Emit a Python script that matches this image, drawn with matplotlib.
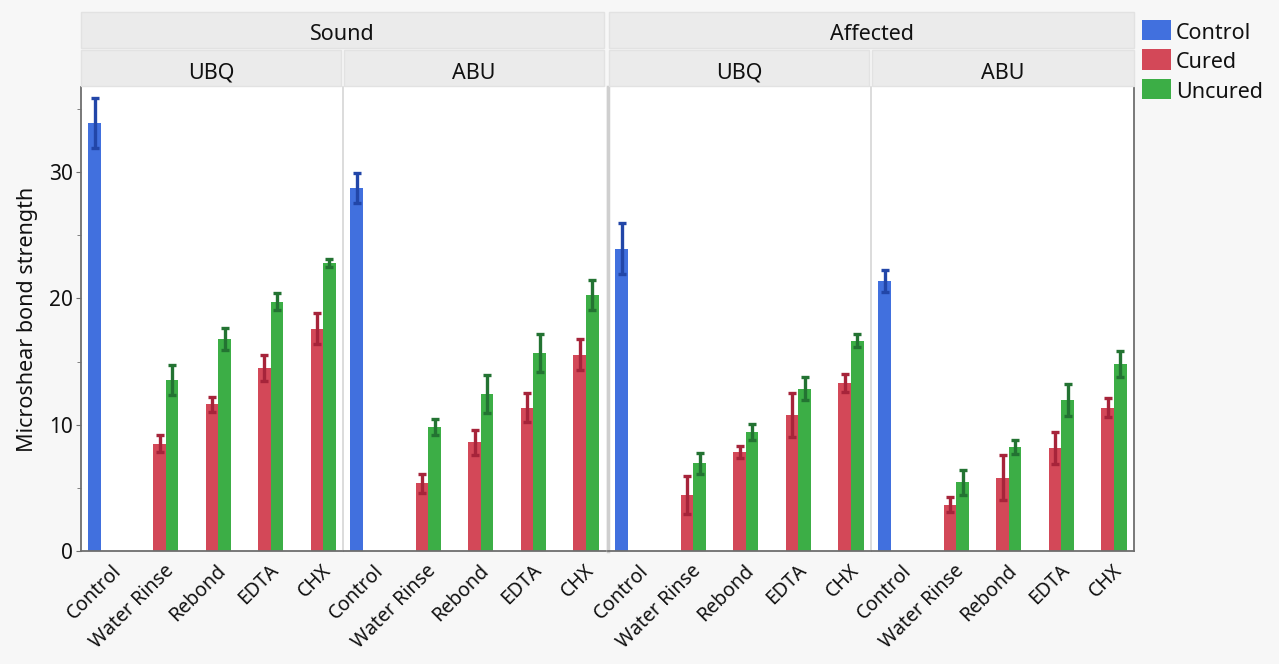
import matplotlib
matplotlib.use("Agg")
import matplotlib.pyplot as plt
import matplotlib.transforms as mtransforms
from matplotlib.patches import Rectangle
import numpy as np

plt.rcParams['font.family'] = ['Noto Sans', 'DejaVu Sans']

# data
categories = ["Control", "Water Rinse", "Rebond", "EDTA", "CHX"]
series = ["Control", "Cured", "Uncured"]
groups = ["Sound", "Affected"]
adhesives = ["UBQ", "ABU"]

# order of panels: Sound-UBQ, Sound-ABU, Affected-UBQ, Affected-ABU
control_mean = [33.9, 28.75, 23.95, 21.4]
control_err = [2.0, 1.2, 2.05, 0.87]

cured_mean = [
    [8.5, 11.6, 14.5, 17.6],
    [5.35, 8.6, 11.35, 15.55],
    [4.45, 7.85, 10.75, 13.3],
    [3.65, 5.8, 8.15, 11.35],
]
cured_err = [
    [0.65, 0.6, 1.05, 1.25],
    [0.75, 1.0, 1.15, 1.2],
    [1.5, 0.45, 1.75, 0.7],
    [0.6, 1.8, 1.3, 0.77],
]
uncured_mean = [
    [13.55, 16.8, 19.75, 22.8],
    [9.85, 12.45, 15.7, 20.3],
    [6.95, 9.4, 12.85, 16.65],
    [5.45, 8.2, 11.95, 14.8],
]
uncured_err = [
    [1.2, 0.85, 0.65, 0.35],
    [0.63, 1.5, 1.5, 1.18],
    [0.83, 0.65, 0.93, 0.5],
    [1.0, 0.55, 1.25, 1.03],
]

colors = {"Control": "#4170de", "Cured": "#d34858", "Uncured": "#3cae46"}
err_colors = {"Control": "#2246a8", "Cured": "#a6243a", "Uncured": "#237332"}

W, H = 1279, 664
fig = plt.figure(figsize=(W / 100, H / 100), dpi=100)
fig.patch.set_facecolor("#f7f7f7")


def fx(px):
    return px / W


def fy(py):
    return 1 - py / H


axis_dark = "#6e6e6e"
sep_light = "#d6d6d6"
header_fill = "#ebebeb"
header_edge = "#e2e2e2"
txt = "#111111"

panel_x = [(81, 343), (343, 606), (608, 871), (871, 1134)]
top_px, bot_px = 87, 551
ymax = (bot_px - top_px) / 12.63

bw = 0.24
x = np.arange(len(categories))
ekw = dict(capsize=2.6, capthick=2.4, elinewidth=2.4)

for i, (x0, x1) in enumerate(panel_x):
    ax = fig.add_axes([fx(x0), fy(bot_px), fx(x1 - x0), (bot_px - top_px) / H])
    ax.set_facecolor("white")
    ax.bar(x[0] - bw, control_mean[i], bw, color=colors["Control"], zorder=2)
    ax.errorbar(x[0] - bw, control_mean[i], yerr=control_err[i], fmt="none",
                ecolor=err_colors["Control"], zorder=3, **ekw)
    ax.bar(x[1:], cured_mean[i], bw, color=colors["Cured"], zorder=2)
    ax.errorbar(x[1:], cured_mean[i], yerr=cured_err[i], fmt="none",
                ecolor=err_colors["Cured"], zorder=3, **ekw)
    ax.bar(x[1:] + bw, uncured_mean[i], bw, color=colors["Uncured"], zorder=2)
    ax.errorbar(x[1:] + bw, uncured_mean[i], yerr=uncured_err[i], fmt="none",
                ecolor=err_colors["Uncured"], zorder=3, **ekw)

    ax.set_xlim(-0.5, len(categories) - 0.5)
    ax.set_ylim(0, ymax)
    ax.set_xticks(x)
    ax.set_xticklabels(categories, rotation=45, ha="right", va="top",
                       rotation_mode="anchor", fontsize=14, color=txt)
    ax.tick_params(axis="x", length=0, pad=7)
    ax.spines["top"].set_visible(False)
    ax.spines["bottom"].set_color(axis_dark)
    ax.spines["bottom"].set_linewidth(1.3)
    if i == 0:
        ax.spines["left"].set_color(axis_dark)
        ax.spines["left"].set_linewidth(1.3)
        ax.set_yticks([0, 10, 20, 30])
        ax.set_yticks([5, 15, 25, 35], minor=True)
        ax.tick_params(axis="y", which="major", length=3.5, color=axis_dark,
                       labelsize=15, pad=2, labelcolor=txt)
        ax.tick_params(axis="y", which="minor", length=3, color=axis_dark)
        ax.set_ylabel("Microshear bond strength", fontsize=15.5, labelpad=8,
                      color=txt)
    else:
        ax.spines["left"].set_color(sep_light if i != 2 else "#cfcfcf")
        ax.spines["left"].set_linewidth(1.2 if i != 2 else 2.5)
        ax.set_yticks([])
    if i == 3:
        ax.spines["right"].set_color(axis_dark)
        ax.spines["right"].set_linewidth(1.3)
    else:
        ax.spines["right"].set_visible(False)

    # shift tick labels a little right to line up with the bar groups
    offset = mtransforms.ScaledTranslation(4 / 100, 0, fig.dpi_scale_trans)
    for lab in ax.get_xticklabels():
        lab.set_transform(lab.get_transform() + offset)

# facet headers
group_px = [(81, 604), (609, 1134)]
for (x0, x1), name in zip(group_px, groups):
    fig.patches.append(Rectangle((fx(x0), fy(48)), fx(x1 - x0), (48 - 12) / H,
                                 transform=fig.transFigure, facecolor=header_fill,
                                 edgecolor=header_edge, lw=1))
    fig.text(fx((x0 + x1) / 2), fy(32), name, ha="center", va="center_baseline",
             fontsize=15.5, color=txt)

sub_px = [(81, 341), (344, 604), (609, 869), (872, 1134)]
for k, (x0, x1) in enumerate(sub_px):
    fig.patches.append(Rectangle((fx(x0), fy(86)), fx(x1 - x0), (86 - 50) / H,
                                 transform=fig.transFigure, facecolor=header_fill,
                                 edgecolor=header_edge, lw=1))
    fig.text(fx((x0 + x1) / 2), fy(71), adhesives[k % 2], ha="center",
             va="center_baseline", fontsize=15.5, color=txt)

# legend
for k, name in enumerate(series):
    yc = 30 + k * 29.5
    fig.patches.append(Rectangle((fx(1142), fy(yc + 10)), fx(29), 20 / H,
                                 transform=fig.transFigure,
                                 facecolor=colors[name], edgecolor="none"))
    fig.text(fx(1176), fy(yc + 1), name, ha="left", va="center_baseline",
             fontsize=15.5, color=txt)

fig.savefig("out.png", dpi=100, facecolor=fig.get_facecolor())
